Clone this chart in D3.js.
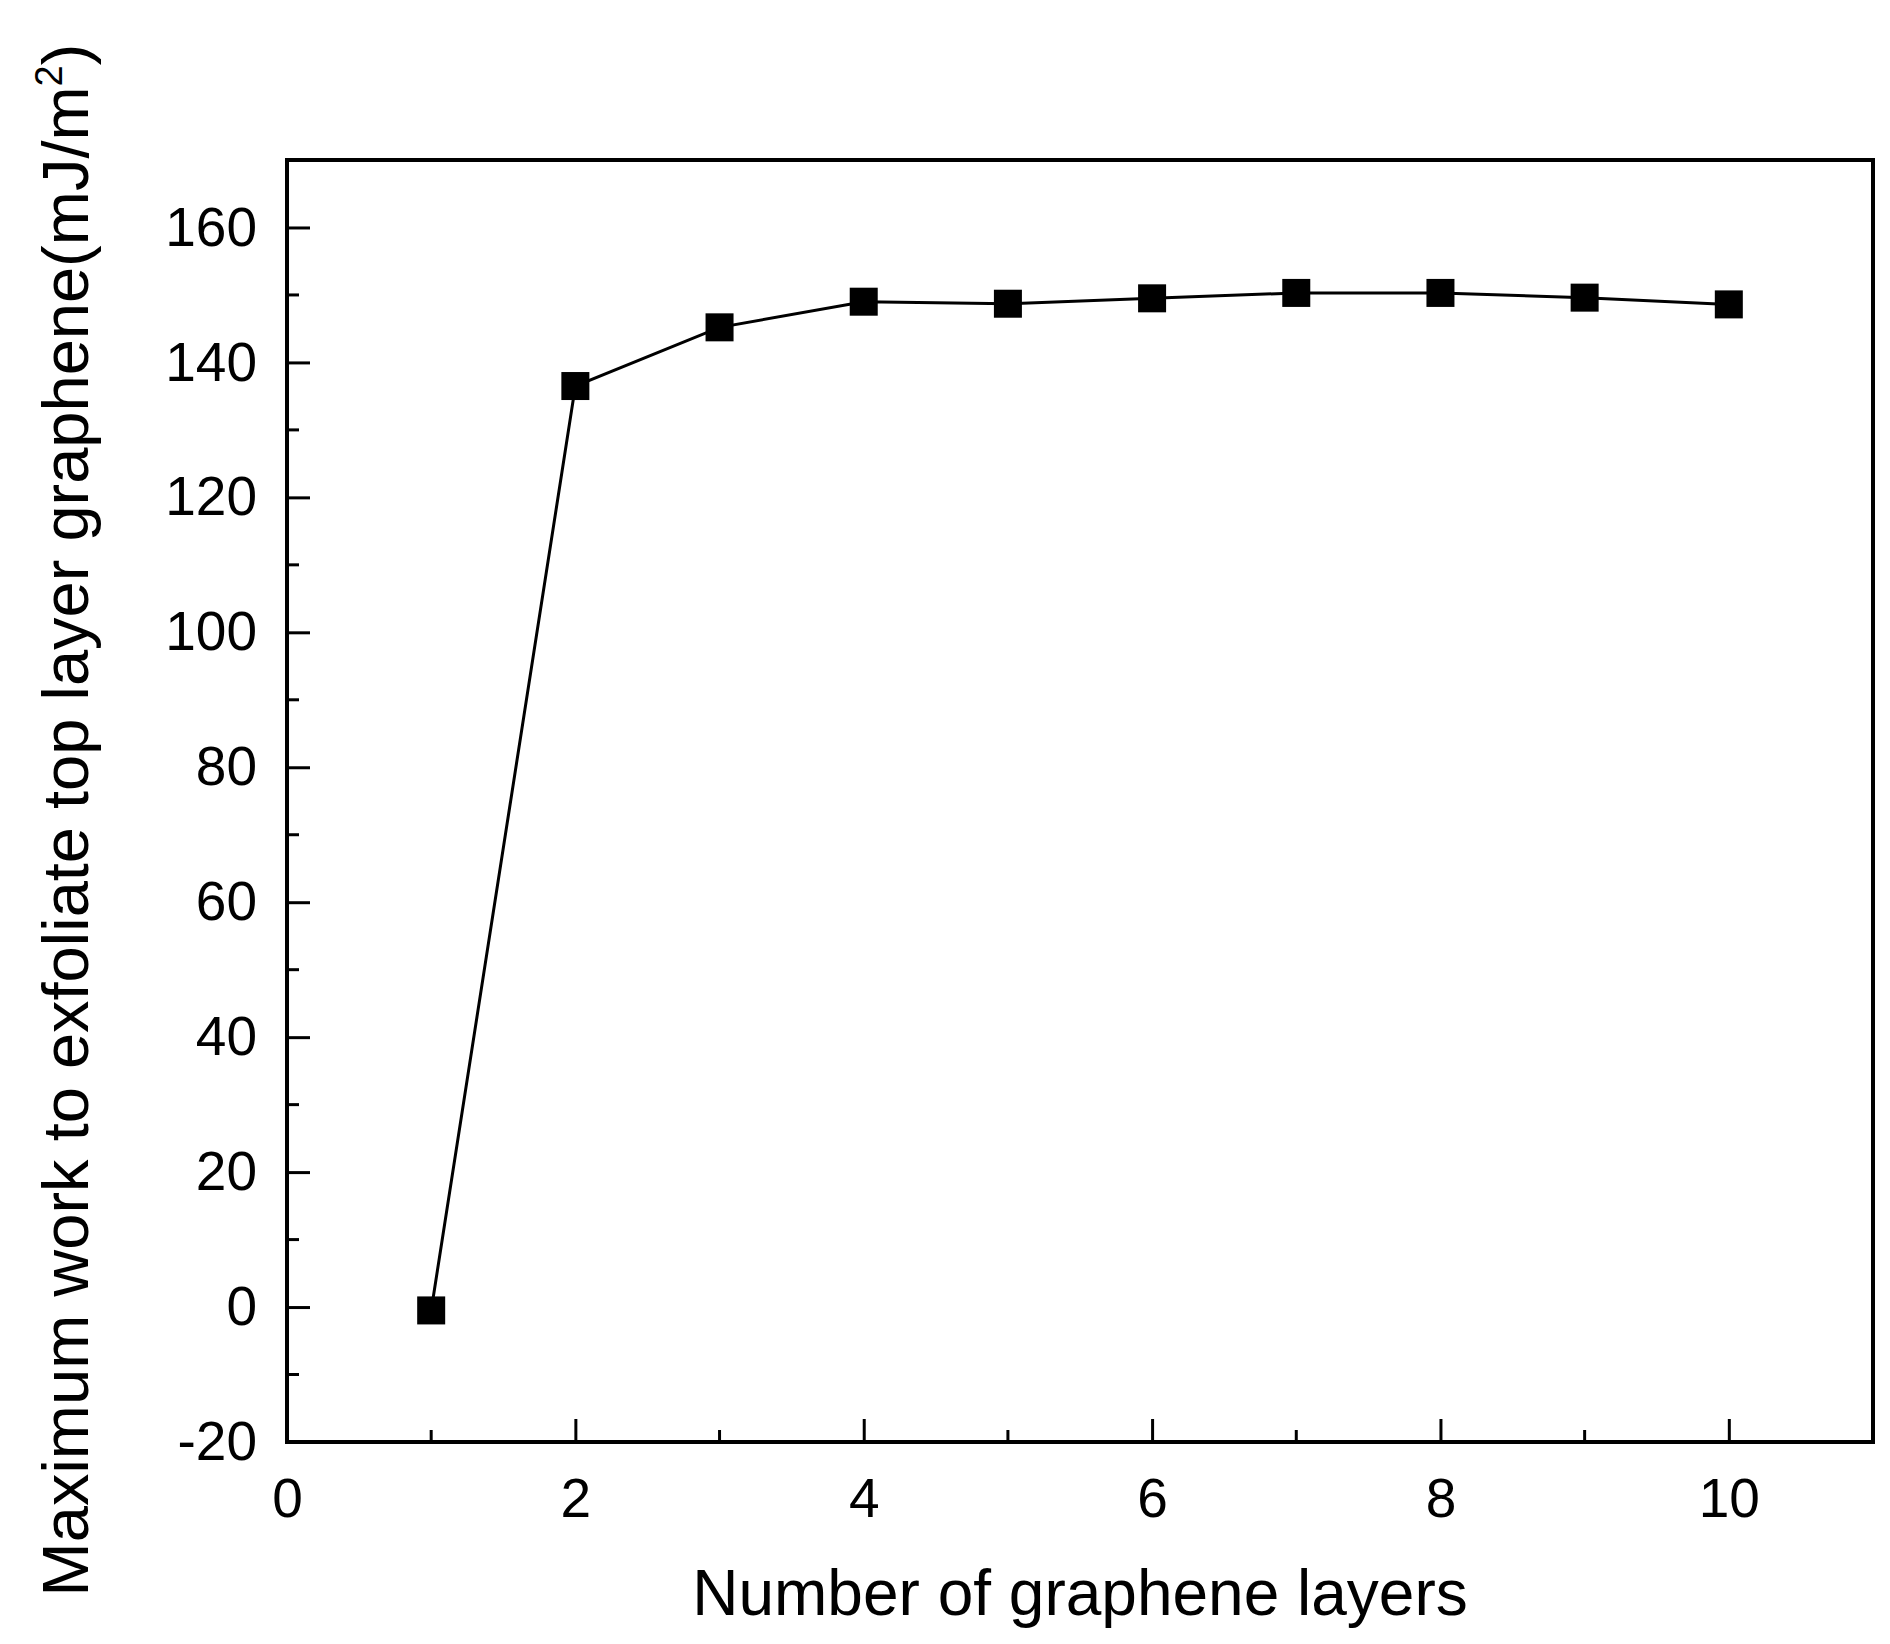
<!DOCTYPE html>
<html><head><meta charset="utf-8">
<script src="https://cdn.jsdelivr.net/npm/d3@7"></script>
<style>body{margin:0;background:#fff}text{font-family:"Liberation Sans",Arial,sans-serif}</style>
</head><body>
<svg id="c" width="1890" height="1644"></svg>
<script>
const layers = [1,2,3,4,5,6,7,8,9,10];
const work = [-0.5,136.5,145.2,149,148.7,149.5,150.3,150.3,149.6,148.6];
const xTicks = [0,2,4,6,8,10];
const yTicks = [-20,0,20,40,60,80,100,120,140,160];

const L=287,R=1873,T=160,B=1442;
const svg=d3.select("#c");
const x=d3.scaleLinear().domain([0,11]).range([L,R]);
const y=d3.scaleLinear().domain([-20,170]).range([B,T]);

const g=svg.append("g");
d3.range(1,11,2).forEach(v=>g.append("line").attr("x1",x(v)).attr("x2",x(v)).attr("y1",B).attr("y2",B-12).attr("stroke","#000").attr("stroke-width",3));
d3.range(-10,170,20).forEach(v=>g.append("line").attr("x1",L).attr("x2",L+12).attr("y1",y(v)).attr("y2",y(v)).attr("stroke","#000").attr("stroke-width",3));

const xa=svg.append("g").attr("transform",`translate(0,${B})`)
 .call(d3.axisBottom(x).tickValues(xTicks).tickSizeInner(-23).tickSizeOuter(0).tickPadding(36));
const ya=svg.append("g").attr("transform",`translate(${L},0)`)
 .call(d3.axisLeft(y).tickValues(yTicks).tickFormat(d=>String(d)).tickSizeInner(-23).tickSizeOuter(0).tickPadding(30));
[xa,ya].forEach(a=>{a.selectAll("line").attr("stroke-width",3);a.select(".domain").remove();
 a.selectAll("text").attr("font-size",55).attr("fill","#000");});
svg.append("rect").attr("x",L).attr("y",T).attr("width",R-L).attr("height",B-T).attr("fill","none").attr("stroke","#000").attr("stroke-width",4);

svg.append("path").datum(layers.map((d,i)=>[d,work[i]]))
 .attr("d",d3.line().x(d=>x(d[0])).y(d=>y(d[1]))).attr("fill","none").attr("stroke","#000").attr("stroke-width",3);
svg.selectAll(".m").data(layers.map((d,i)=>[d,work[i]])).join("rect")
 .attr("x",d=>x(d[0])-14).attr("y",d=>y(d[1])-14).attr("width",28).attr("height",28).attr("fill","#000");

svg.append("text").attr("x",(L+R)/2+0).attr("y",1615).attr("text-anchor","middle").attr("font-size",64).text("Number of graphene layers");
const yl=svg.append("text").attr("transform","translate(88,820) rotate(-90)").attr("text-anchor","middle").attr("font-size",65);
yl.append("tspan").text("Maximum work to exfoliate top layer graphene(mJ/m");
yl.append("tspan").attr("font-size",38).attr("dy",-26).text("2");
yl.append("tspan").attr("dy",26).text(")");
</script>
</body></html>
